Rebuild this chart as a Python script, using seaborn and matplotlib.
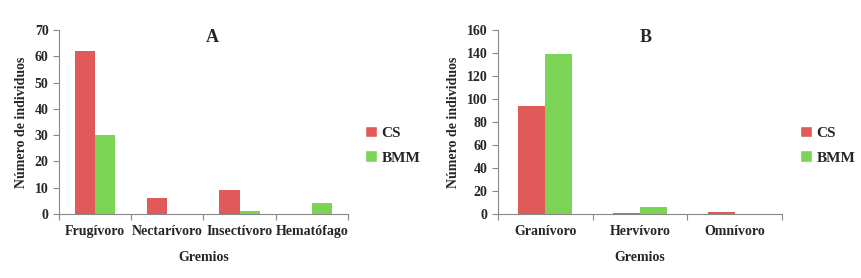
import matplotlib
matplotlib.use("Agg")
import matplotlib.pyplot as plt
import seaborn as sns
import pandas as pd
from matplotlib.patches import Patch

sns.set_theme(style="white")
plt.rcParams['font.family'] = ['Liberation Serif', 'DejaVu Serif']
plt.rcParams['font.weight'] = 'bold'

series = ["CS", "BMM"]
cats_a = ["Frugívoro", "Nectarívoro", "Insectívoro", "Hematófago"]
cs_a = [62, 6, 9, 0]
bmm_a = [30, 0, 1, 4]
cats_b = ["Granívoro", "Hervívoro", "Omnívoro"]
cs_b = [94, 1, 2]
bmm_b = [139, 6, 0]
colors = {"CS": "#E05A5A", "BMM": "#7BD456"}

def make_df(cats, cs, bmm):
    return pd.DataFrame({
        "Gremio": cats * 2,
        "Serie": ["CS"] * len(cats) + ["BMM"] * len(cats),
        "Valor": cs + bmm,
    })

fig = plt.figure(figsize=(8.62, 2.78), dpi=100)
ax_a = fig.add_axes([59/862, 64/278, 289/862, 184/278])
ax_b = fig.add_axes([498/862, 64/278, 284/862, 184/278])

panels = [
    (ax_a, cats_a, cs_a, bmm_a, 70, 10, "A", 0.56, 0.53, (351/862, 133/278)),
    (ax_b, cats_b, cs_b, bmm_b, 160, 20, "B", 0.57, 0.52, (786/862, 133/278)),
]

for ax, cats, cs, bmm, ymax, step, title, w, tx, legpos in panels:
    df = make_df(cats, cs, bmm)
    sns.barplot(data=df, x="Gremio", y="Valor", hue="Serie", hue_order=series,
                palette=colors, width=w, ax=ax, legend=False,
                edgecolor=None, linewidth=0, saturation=1)
    n = len(cats)
    ax.set_xlim(-0.5, n - 0.5)
    ax.set_ylim(0, ymax)
    ax.set_yticks(range(0, ymax + 1, step))
    ax.set_xticks(range(n))
    ax.set_xticklabels(cats, fontsize=10, fontweight='bold')
    ax.set_xticks([i - 0.5 for i in range(n + 1)], minor=True)
    ax.tick_params(axis='x', which='major', length=0, pad=8)
    ax.tick_params(axis='x', which='minor', length=4, width=0.8, color='#888888', direction='out', bottom=True)
    ax.tick_params(axis='y', length=4, width=0.8, color='#888888', direction='out', left=True, labelsize=10)
    for lab in ax.get_yticklabels():
        lab.set_fontweight('bold')
    for s in ['top', 'right']:
        ax.spines[s].set_visible(False)
    for s in ['left', 'bottom']:
        ax.spines[s].set_color('#888888')
        ax.spines[s].set_linewidth(0.8)
    ax.set_xlabel("Gremios", fontsize=10, fontweight='bold', labelpad=9)
    ax.set_ylabel("Número de individuos", fontsize=10, fontweight='bold', labelpad=5)
    ax.text(tx, 0.957, title, transform=ax.transAxes, ha='center', va='center',
            fontsize=13, fontweight='bold')
    handles = [Patch(facecolor=colors[s], label=s) for s in series]
    fig.legend(handles=handles, loc='center left', bbox_to_anchor=legpos,
               frameon=False, prop={'family': 'Liberation Serif', 'weight': 'bold', 'size': 11},
               handlelength=0.8, handleheight=0.8, handletextpad=0.3, labelspacing=0.7)

fig.savefig("out.png", dpi=100)
